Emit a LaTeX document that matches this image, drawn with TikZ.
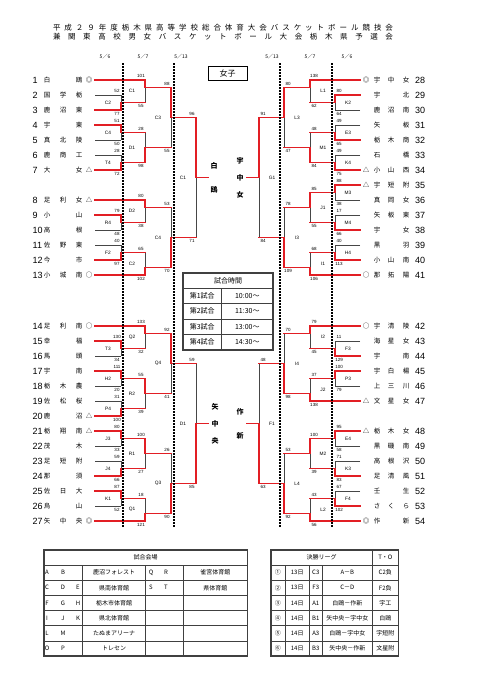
\documentclass[tikz,border=0pt]{standalone}
\usepackage{fontspec}
\setmainfont{Liberation Sans}
\newfontfamily\jp{Noto Sans CJK JP}
\definecolor{lred}{RGB}{226,30,36}
\definecolor{lgray}{RGB}{70,70,70}
\pgfdeclarelayer{bgw}
\pgfdeclarelayer{bl}
\pgfdeclarelayer{rl}
\pgfdeclarelayer{top}
\pgfsetlayers{bgw,bl,rl,main,top}
\newcommand\teamL[8]{%
  \node[num] (nL#2) at (32.5,#1) {#2};
  \node[nm] (aL#2) at (47,#1) {#3};
  \node[nm] (bL#2) at (63,#1) {#4};
  \node[nm] (cL#2) at (79,#1) {#5};
  \node[nm] (mL#2) at (89,#1) {#6};
  \begin{pgfonlayer}{#8}\draw[#8] (95,#1) -- (#7,#1);\end{pgfonlayer}%
}
\newcommand\teamR[8]{%
  \node[num] (nR#2) at (415,#1) {#2};
  \node[nm] (aR#2) at (377,#1) {#3};
  \node[nm] (bR#2) at (391,#1) {#4};
  \node[nm] (cR#2) at (406,#1) {#5};
  \node[nm] (mR#2) at (366,#1) {#6};
  \begin{pgfonlayer}{#8}\draw[#8] (360,#1) -- (#7,#1);\end{pgfonlayer}%
}
% vx ytop ybot yout ywin scoretop scorebot label nextx
\newcommand\matchL[9]{%
  \begin{pgfonlayer}{bl}\draw[bl] (#1,#2) -- (#1,#3);\end{pgfonlayer}%
  \begin{pgfonlayer}{rl}\draw[rl] (#1,#5) -- (#1,#4) -- (#9,#4);\end{pgfonlayer}%
  \node[sc] at (#1-4,#2-3.6) {#6};
  \node[sc] at (#1-4,#3+3.6) {#7};
  \node[lb] at (#1-13,{(#2+#3)/2}) {#8};
}
\newcommand\matchR[9]{%
  \begin{pgfonlayer}{bl}\draw[bl] (#1,#2) -- (#1,#3);\end{pgfonlayer}%
  \begin{pgfonlayer}{rl}\draw[rl] (#1,#5) -- (#1,#4) -- (#9,#4);\end{pgfonlayer}%
  \node[sc] at (#1+4,#2-3.6) {#6};
  \node[sc] at (#1+4,#3+3.6) {#7};
  \node[lb] at (#1+13,{(#2+#3)/2}) {#8};
}
\begin{document}
\begin{tikzpicture}[x=1pt,y=-1pt,
  rl/.style={draw=lred,line width=1.4pt,line cap=rect},
  bl/.style={draw=lgray,line width=0.75pt},
  nm/.style={font=\jp\fontsize{6.5}{7}\selectfont,inner sep=0pt},
  num/.style={font=\fontsize{9}{10}\selectfont,inner sep=0pt,anchor=west},
  sc/.style={font=\fontsize{4.5}{5}\selectfont,inner sep=0pt},
  lb/.style={font=\fontsize{4.8}{5}\selectfont,inner sep=0pt},
  dt/.style={font=\jp\fontsize{5}{6}\selectfont,inner sep=0pt},
  dots/.style={draw=black,line width=1.5pt,dash pattern=on 1.5pt off 1.5pt},
  tbo/.style={draw=black!75,line width=1.6pt},
  tbi/.style={draw=black!75,line width=0.6pt},
  tx/.style={font=\jp\fontsize{6}{7}\selectfont,inner sep=0pt},
  tt/.style={font=\jp\fontsize{7}{8}\selectfont,inner sep=0pt},
  fn/.style={font=\jp\bfseries\fontsize{7}{8}\selectfont,inner sep=0pt},
]
\begin{pgfonlayer}{bgw}
\fill[white] (0,0) rectangle (481,680);
\end{pgfonlayer}
\useasboundingbox (0,0) rectangle (481,680);

% title
\node[inner sep=0pt,font=\jp\fontsize{7.5}{8}\selectfont] (title1) at (223,28) {\makebox[340pt][s]{平\hfill 成\hfill ２\hfill ９\hfill 年\hfill 度\hfill 栃\hfill 木\hfill 県\hfill 高\hfill 等\hfill 学\hfill 校\hfill 総\hfill 合\hfill 体\hfill 育\hfill 大\hfill 会\hfill バ\hfill ス\hfill ケ\hfill ッ\hfill ト\hfill ボ\hfill ー\hfill ル\hfill 競\hfill 技\hfill 会}};
\node[inner sep=0pt,font=\jp\fontsize{7.5}{8}\selectfont] (title2) at (223,37) {\makebox[340pt][s]{兼\hfill 関\hfill 東\hfill 高\hfill 校\hfill 男\hfill 女\hfill バ\hfill ス\hfill ケ\hfill ッ\hfill ト\hfill ボ\hfill ー\hfill ル\hfill 大\hfill 会\hfill 栃\hfill 木\hfill 県\hfill 予\hfill 選\hfill 会}};

% dates
\node[dt] (d1) at (105,57) {5／6};
\node[dt] (d2) at (143,57) {5／7};
\node[dt] (d3) at (181,57) {5／13};
\node[dt] (d4) at (272,57) {5／13};
\node[dt] (d5) at (310,57) {5／7};
\node[dt] (d6) at (347,57) {5／6};

% female box
\node[draw=black,line width=0.9pt,minimum width=39pt,minimum height=14pt,inner sep=0pt,font=\jp\fontsize{8}{9}\selectfont] (joshi) at (227.5,73) {女子};

% ---------- left teams ----------
\teamL{80}{1}{白}{}{鴎}{◎}{145}{rl}
\teamL{95}{2}{国}{学}{栃}{}{121}{bl}
\teamL{110}{3}{鹿}{沼}{東}{}{121}{rl}
\teamL{125}{4}{宇}{}{東}{}{121}{rl}
\teamL{140}{5}{真}{北}{陵}{}{121}{bl}
\teamL{155}{6}{鹿}{商}{工}{}{121}{bl}
\teamL{170}{7}{大}{}{女}{△}{121}{rl}
\teamL{200}{8}{足}{利}{女}{△}{145}{rl}
\teamL{215}{9}{小}{}{山}{}{121}{rl}
\teamL{230}{10}{高}{}{根}{}{121}{bl}
\teamL{245}{11}{佐}{野}{東}{}{121}{bl}
\teamL{260}{12}{今}{}{市}{}{121}{rl}
\teamL{275}{13}{小}{城}{南}{○}{145}{rl}
\teamL{326}{14}{足}{利}{南}{○}{145}{rl}
\teamL{341}{15}{幸}{}{福}{}{121}{rl}
\teamL{356}{16}{馬}{}{頭}{}{121}{bl}
\teamL{371}{17}{宇}{}{南}{}{121}{rl}
\teamL{386}{18}{栃}{木}{農}{}{121}{bl}
\teamL{401}{19}{佐}{松}{桜}{}{121}{bl}
\teamL{416}{20}{鹿}{}{沼}{△}{121}{rl}
\teamL{431}{21}{栃}{翔}{南}{△}{121}{rl}
\teamL{446}{22}{茂}{}{木}{}{121}{bl}
\teamL{461}{23}{足}{短}{附}{}{121}{bl}
\teamL{476}{24}{那}{}{須}{}{121}{rl}
\teamL{491}{25}{佐}{日}{大}{}{121}{rl}
\teamL{506}{26}{烏}{}{山}{}{121}{bl}
\teamL{521}{27}{矢}{中}{央}{◎}{145}{rl}

% left round 1
\matchL{121}{95}{110}{102.5}{110}{52}{77}{C2}{145}
\matchL{121}{125}{140}{132.5}{125}{51}{50}{C4}{145}
\matchL{121}{155}{170}{162.5}{170}{28}{72}{T4}{145}
\matchL{121}{215}{230}{222.5}{215}{79}{48}{R4}{145}
\matchL{121}{245}{260}{252.5}{260}{40}{97}{F2}{145}
\matchL{121}{341}{356}{348.5}{341}{130}{34}{T3}{145}
\matchL{121}{371}{386}{378.5}{371}{111}{20}{H2}{145}
\matchL{121}{401}{416}{408.5}{416}{31}{100}{P4}{145}
\matchL{121}{431}{446}{438.5}{431}{80}{33}{J3}{145}
\matchL{121}{461}{476}{468.5}{476}{59}{66}{J4}{145}
\matchL{121}{491}{506}{498.5}{491}{87}{52}{K1}{145}
% left round 2
\matchL{145}{80}{102.5}{87.5}{80}{101}{55}{C1}{171}
\matchL{145}{132.5}{162.5}{147.5}{162.5}{28}{98}{D1}{171}
\matchL{145}{200}{222.5}{207.5}{200}{80}{38}{D2}{171}
\matchL{145}{252.5}{275}{267.5}{275}{65}{102}{C2}{171}
\matchL{145}{326}{348.5}{333.5}{326}{133}{32}{Q2}{171}
\matchL{145}{378.5}{408.5}{393.5}{378.5}{55}{39}{R2}{171}
\matchL{145}{438.5}{468.5}{453.5}{438.5}{100}{27}{R1}{171}
\matchL{145}{498.5}{521}{513.5}{521}{18}{121}{Q1}{171}
% left round 3
\matchL{171}{87.5}{147.5}{117.5}{87.5}{88}{55}{C3}{196}
\matchL{171}{207.5}{267.5}{237.5}{267.5}{53}{70}{C4}{196}
\matchL{171}{333.5}{393.5}{363.5}{333.5}{92}{41}{Q4}{196}
\matchL{171}{453.5}{513.5}{483.5}{513.5}{26}{90}{Q3}{196}
% left 5/13
\matchL{196}{117.5}{237.5}{177.5}{117.5}{96}{71}{C1}{208}
\matchL{196}{363.5}{483.5}{423.5}{483.5}{59}{85}{D1}{208}

% ---------- right teams ----------
\teamR{80}{28}{宇}{中}{女}{◎}{310}{rl}
\teamR{95}{29}{宇}{}{北}{}{335}{rl}
\teamR{110}{30}{鹿}{沼}{南}{}{335}{bl}
\teamR{125}{31}{矢}{}{板}{}{335}{bl}
\teamR{140}{32}{栃}{木}{商}{}{335}{rl}
\teamR{155}{33}{石}{}{橋}{}{335}{bl}
\teamR{170}{34}{小}{山}{西}{△}{335}{rl}
\teamR{185}{35}{宇}{短}{附}{△}{335}{rl}
\teamR{200}{36}{真}{岡}{女}{}{335}{bl}
\teamR{215}{37}{矢}{板}{東}{}{335}{bl}
\teamR{230}{38}{宇}{}{女}{}{335}{rl}
\teamR{245}{39}{黒}{}{羽}{}{335}{bl}
\teamR{260}{40}{小}{山}{南}{}{335}{rl}
\teamR{275}{41}{那}{拓}{陽}{○}{310}{rl}
\teamR{326}{42}{宇}{清}{陵}{○}{310}{rl}
\teamR{341}{43}{海}{星}{女}{}{335}{bl}
\teamR{356}{44}{宇}{}{南}{}{335}{rl}
\teamR{371}{45}{宇}{白}{楊}{}{335}{rl}
\teamR{386}{46}{上}{三}{川}{}{335}{bl}
\teamR{401}{47}{文}{星}{女}{△}{310}{rl}
\teamR{431}{48}{栃}{木}{女}{△}{335}{rl}
\teamR{446}{49}{黒}{磯}{南}{}{335}{bl}
\teamR{461}{50}{高}{根}{沢}{}{335}{bl}
\teamR{476}{51}{足}{清}{風}{}{335}{rl}
\teamR{491}{52}{壬}{}{生}{}{335}{bl}
\teamR{506}{53}{さ}{く}{ら}{}{335}{rl}
\teamR{521}{54}{作}{}{新}{◎}{310}{rl}

% right round 1
\matchR{335}{95}{110}{102.5}{95}{80}{64}{K2}{310}
\matchR{335}{125}{140}{132.5}{140}{49}{65}{E3}{310}
\matchR{335}{155}{170}{162.5}{170}{49}{75}{K4}{310}
\matchR{335}{185}{200}{192.5}{185}{88}{38}{M3}{310}
\matchR{335}{215}{230}{222.5}{230}{17}{66}{M4}{310}
\matchR{335}{245}{260}{252.5}{260}{40}{113}{H4}{310}
\matchR{335}{341}{356}{348.5}{356}{11}{129}{F3}{310}
\matchR{335}{371}{386}{378.5}{371}{100}{79}{P3}{310}
\matchR{335}{431}{446}{438.5}{431}{95}{58}{E4}{310}
\matchR{335}{461}{476}{468.5}{476}{71}{83}{K3}{310}
\matchR{335}{491}{506}{498.5}{506}{67}{102}{F4}{310}
% right round 2
\matchR{310}{80}{102.5}{87.5}{80}{138}{62}{L1}{284}
\matchR{310}{132.5}{162.5}{147.5}{162.5}{48}{84}{M1}{284}
\matchR{310}{192.5}{222.5}{207.5}{192.5}{85}{55}{J1}{284}
\matchR{310}{252.5}{275}{267.5}{275}{68}{106}{I1}{284}
\matchR{310}{326}{348.5}{333.5}{326}{79}{45}{I2}{284}
\matchR{310}{378.5}{401}{393.5}{401}{37}{138}{J2}{284}
\matchR{310}{438.5}{468.5}{453.5}{438.5}{100}{39}{M2}{284}
\matchR{310}{498.5}{521}{513.5}{521}{43}{56}{L2}{284}
% right round 3
\matchR{284}{87.5}{147.5}{117.5}{87.5}{80}{47}{L3}{259}
\matchR{284}{207.5}{267.5}{237.5}{267.5}{78}{109}{I3}{259}
\matchR{284}{333.5}{393.5}{363.5}{393.5}{70}{98}{I4}{259}
\matchR{284}{453.5}{513.5}{483.5}{513.5}{53}{92}{L4}{259}
% right 5/13
\matchR{259}{117.5}{237.5}{177.5}{117.5}{91}{84}{G1}{247}
\matchR{259}{363.5}{483.5}{423.5}{483.5}{48}{63}{F1}{247}

% finalists
\node[fn] (fa1) at (214,165.5) {白};
\node[fn] (fa2) at (214,189.5) {鴎};
\node[fn] (fb1) at (240,160.5) {宇};
\node[fn] (fb2) at (240,177.5) {中};
\node[fn] (fb3) at (240,194.5) {女};
\node[fn] (fc1) at (215,406.5) {矢};
\node[fn] (fc2) at (215,423.5) {中};
\node[fn] (fc3) at (215,440.5) {央};
\node[fn] (fd1) at (240,411.5) {作};
\node[fn] (fd2) at (240,435.5) {新};

% dotted day separators
\begin{pgfonlayer}{top}
\foreach \x in {123,174,280,332} \draw[dots] (\x,63) -- (\x,528);
\end{pgfonlayer}

% time table
\fill[white] (183,273) rectangle (273,350);
\draw[tbo] (183,273) rectangle (273,350);
\foreach \y in {288,303.5,319,334.5} \draw[tbi] (183,\y) -- (273,\y);
\draw[tbi] (221.7,288) -- (221.7,350);
\node[tt] (tth) at (228,280.5) {試合時間};
\node[tt] (tt1a) at (202.3,295.75) {第1試合};
\node[tt] (tt1b) at (247.3,295.75) {10:00～};
\node[tt] (tt2a) at (202.3,311.25) {第2試合};
\node[tt] (tt2b) at (247.3,311.25) {11:30～};
\node[tt] (tt3a) at (202.3,326.75) {第3試合};
\node[tt] (tt3b) at (247.3,326.75) {13:00～};
\node[tt] (tt4a) at (202.3,342.25) {第4試合};
\node[tt] (tt4b) at (247.3,342.25) {14:30～};

% venue table
\draw[tbo] (44,550) rectangle (247.3,656);
\foreach \y in {565,580.17,595.33,610.5,625.67,640.83} \draw[tbi] (44,\y) -- (247.3,\y);
\draw[tbi] (82.3,565) -- (82.3,656);
\draw[tbi,line width=1.2pt] (145.7,565) -- (145.7,656);
\draw[tbi] (183.3,565) -- (183.3,656);
\node[tx] (vh) at (145.7,557.5) {試合会場};
\node[tx] at (47,572.6) {A};\node[tx] at (63,572.6) {B};
\node[tx] at (47,587.75) {C};\node[tx] at (63,587.75) {D};\node[tx] at (78,587.75) {E};
\node[tx] at (47,602.9) {F};\node[tx] at (63,602.9) {G};\node[tx] at (78,602.9) {H};
\node[tx] at (47,618.1) {I};\node[tx] at (63,618.1) {J};\node[tx] at (78,618.1) {K};
\node[tx] at (47,633.25) {L};\node[tx] at (63,633.25) {M};
\node[tx] at (47,648.4) {O};\node[tx] at (63,648.4) {P};
\node[tx] (v1) at (114,572.6) {鹿沼フォレスト};
\node[tx] (v2) at (114,587.75) {県南体育館};
\node[tx] (v3) at (114,602.9) {栃木市体育館};
\node[tx] (v4) at (114,618.1) {県北体育館};
\node[tx] (v5) at (114,633.25) {たぬまアリーナ};
\node[tx] (v6) at (114,648.4) {トレセン};
\node[tx] at (151,572.6) {Q};\node[tx] at (166,572.6) {R};
\node[tx] at (151,587.75) {S};\node[tx] at (166,587.75) {T};
\node[tx] (v7) at (215.3,572.6) {雀宮体育館};
\node[tx] (v8) at (215.3,587.75) {県体育館};

% final league table
\draw[tbo] (270.7,550) rectangle (398.3,656);
\foreach \y in {565,580.17,595.33,610.5,625.67,640.83} \draw[tbi] (270.7,\y) -- (398.3,\y);
\draw[tbi] (372.3,550) -- (372.3,656);
\foreach \x in {285,309.3,322.3} \draw[tbi] (\x,565) -- (\x,656);
\node[tx] (lh) at (321.5,557.5) {決勝リーグ};
\node[tx] (toh) at (385.3,557.5) {T・O};
\foreach \n/\y/\d/\c/\m/\t in {①/572.6/13日/C3/A－B/C2負, ②/587.75/13日/F3/C－D/F2負, ③/602.9/14日/A1/白鴎－作新/宇工, ④/618.1/14日/B1/矢中央－宇中女/白鴎, ⑤/633.25/14日/A3/白鴎－宇中女/宇短附, ⑥/648.4/14日/B3/矢中央－作新/文星附}{
  \node[tx] at (277.8,\y) {\n};
  \node[tx] at (297.2,\y) {\d};
  \node[tx] at (315.8,\y) {\c};
  \node[tx] at (347.3,\y) {\m};
  \node[tx] at (385.3,\y) {\t};
}
\end{tikzpicture}
\end{document}
